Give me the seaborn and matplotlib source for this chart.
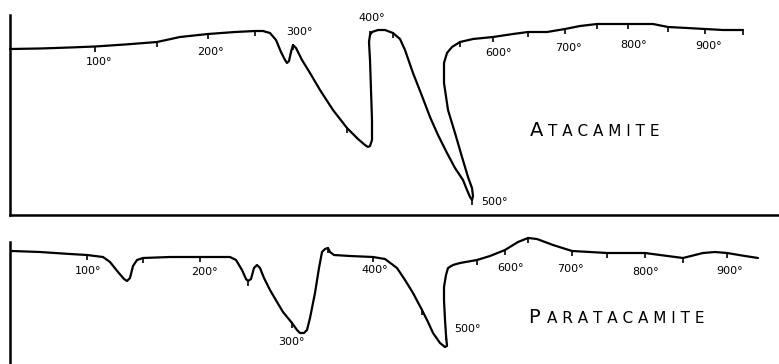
import matplotlib
matplotlib.use("Agg")
import matplotlib.pyplot as plt
import seaborn as sns
import pandas as pd

# ---- Atacamite DTA trace (chart position, deflection) ----
ata_x = [0, 30, 60, 85, 115, 147, 170, 198, 225, 245, 253, 260, 266, 271, 275, 277, 279, 281, 283, 286,
         292, 300, 310, 323, 337, 348, 355, 358, 360, 362, 362, 361, 360, 359, 360, 362, 368, 375, 383, 390,
         395, 403, 412, 420, 428, 437, 445, 453, 457, 460, 462, 463, 462, 458, 452, 445, 438, 434, 434, 437,
         442, 450, 463, 483, 503, 518, 537, 555, 570, 587, 603, 618, 643, 658, 677, 695, 713, 733]
ata_y = [0, 0.5, 1.5, 2.5, 4.5, 7, 12, 15, 17, 18, 18, 16, 9, -3, -11, -14, -12, -3, 4, 1,
         -11, -24, -41, -61, -79, -90, -96, -98, -97, -91, -71, -41, -11, 7, 14, 17, 19, 19, 16, 10,
         -1, -24, -47, -68, -86, -104, -119, -131, -141, -148, -151, -147, -139, -128, -108, -84, -61, -34, -14, -4,
         2, 7, 10, 12, 15, 17, 17, 20, 23, 25, 25, 25, 25, 22, 21, 20, 19, 19]
ata_tick_x = [85, 147, 198, 245, 283, 337, 360, 383, 462, 450, 483, 518, 555, 587, 618, 658, 695, 733]
ata_tick_y = [2.5, 7, 15, 18, 4, -79, 17, 16, -151, 7, 12, 17, 20, 25, 25, 22, 20, 19]
ata_labels = ["100°", "200°", "300°", "400°", "500°", "600°", "700°", "800°", "900°"]
ata_label_x = [89, 200, 289, 362, 484, 489, 558, 624, 699]
ata_label_y = [-13, -3, 17, 31, -153, -4, 1, 4, 3]

# ---- Paratacamite DTA trace ----
par_x = [2, 30, 60, 77, 93, 100, 108, 114, 117, 120, 123, 127, 133, 160, 190, 220, 226, 232, 236, 238,
         241, 244, 247, 250, 254, 260, 267, 273, 282, 287, 290, 294, 297, 300, 305, 309, 312, 315, 318, 320,
         324, 340, 363, 375, 387, 395, 403, 412, 418, 423, 430, 435, 437, 436, 435, 434, 434, 436, 438, 443,
         450, 467, 480, 495, 508, 518, 527, 543, 562, 580, 597, 620, 635, 650, 673, 685, 693, 705, 717, 735, 748]
par_y = [0, -1, -3, -4, -6, -11, -21, -28, -30, -27, -15, -9, -7, -6, -6, -6, -9, -19, -28, -30,
         -28, -17, -14, -17, -27, -39, -51, -61, -72, -79, -82, -82, -79, -67, -42, -17, -1, 2, 3, -1,
         -4, -5, -6, -8, -17, -29, -42, -59, -71, -82, -92, -96, -95, -84, -69, -49, -36, -24, -17, -14,
         -12, -9, -5, 1, 9, 13, 12, 6, 0, -1, -2, -2, -2, -4, -7, -4, -2, -1, -2, -5, -7]
par_tick_x = [77, 133, 190, 238, 282, 318, 363, 412, 436, 467, 495, 518, 562, 597, 635, 673, 717]
par_tick_y = [-4, -7, -6, -30, -72, 3, -6, -59, -84, -9, 1, 13, 0, -2, -2, -7, -2]
par_labels = ["100°", "200°", "300°", "400°", "500°", "600°", "700°", "800°", "900°"]
par_label_x = [78, 194, 281, 365, 457, 501, 560, 636, 720]
par_label_y = [-20, -21, -91, -19, -78, -17, -18, -21, -20]

sns.set_style("white")
plt.rcParams["font.family"] = ["DejaVu Sans"]

W, H = 779, 364
fig = plt.figure(figsize=(W / 100, H / 100), dpi=100)
fig.patch.set_facecolor("white")

ax1 = fig.add_axes([10 / W, 1 - 215 / H, 769 / W, 200 / H])
ax2 = fig.add_axes([10 / W, 0, 769 / W, 122 / H])


def draw(ax, xs, ys, tx, ty, labels, lx, ly, big, rest, nx, ny, rest_off, ylim, bottom_spine):
    df = pd.DataFrame({"pos": xs, "defl": ys})
    sns.lineplot(data=df, x="pos", y="defl", sort=False, estimator=None,
                 color="black", linewidth=1.6, ax=ax)
    for ln in ax.get_lines():
        ln.set_clip_on(False)
        ln.set_solid_joinstyle("round")
        ln.set_solid_capstyle("round")
    vl = ax.vlines(tx, [y + 1 for y in ty], [y - 5 for y in ty], color="black", linewidth=1.2)
    vl.set_clip_on(False)
    for t, x, y in zip(labels, lx, ly):
        ax.text(x, y, t, ha="center", va="center", fontsize=8, color="black")
    ax.text(nx, ny, big, fontsize=14, va="baseline", ha="left", color="black")
    ax.annotate(rest, xy=(nx, ny), xytext=(rest_off, 0), textcoords="offset points",
                fontsize=11, va="baseline", ha="left", color="black")
    ax.set_xlim(0, 769)
    ax.set_ylim(*ylim)
    ax.set_xticks([])
    ax.set_yticks([])
    ax.set_xlabel("")
    ax.set_ylabel("")
    for s in ["top", "right"]:
        ax.spines[s].set_visible(False)
    ax.spines["left"].set_linewidth(1.8)
    ax.spines["left"].set_color("black")
    if bottom_spine:
        ax.spines["bottom"].set_linewidth(1.8)
        ax.spines["bottom"].set_color("black")
    else:
        ax.spines["bottom"].set_visible(False)
    ax.patch.set_alpha(0)


draw(ax1, ata_x, ata_y, ata_tick_x, ata_tick_y, ata_labels, ata_label_x, ata_label_y,
     "A", "T A C A M I T E", 520, -87, 13, (-166, 34), True)
draw(ax2, par_x, par_y, par_tick_x, par_tick_y, par_labels, par_label_x, par_label_y,
     "P", "A R A T A C A M I T E", 518, -72, 13.5, (-113, 9), False)

fig.savefig("out.png", dpi=100, facecolor="white")
